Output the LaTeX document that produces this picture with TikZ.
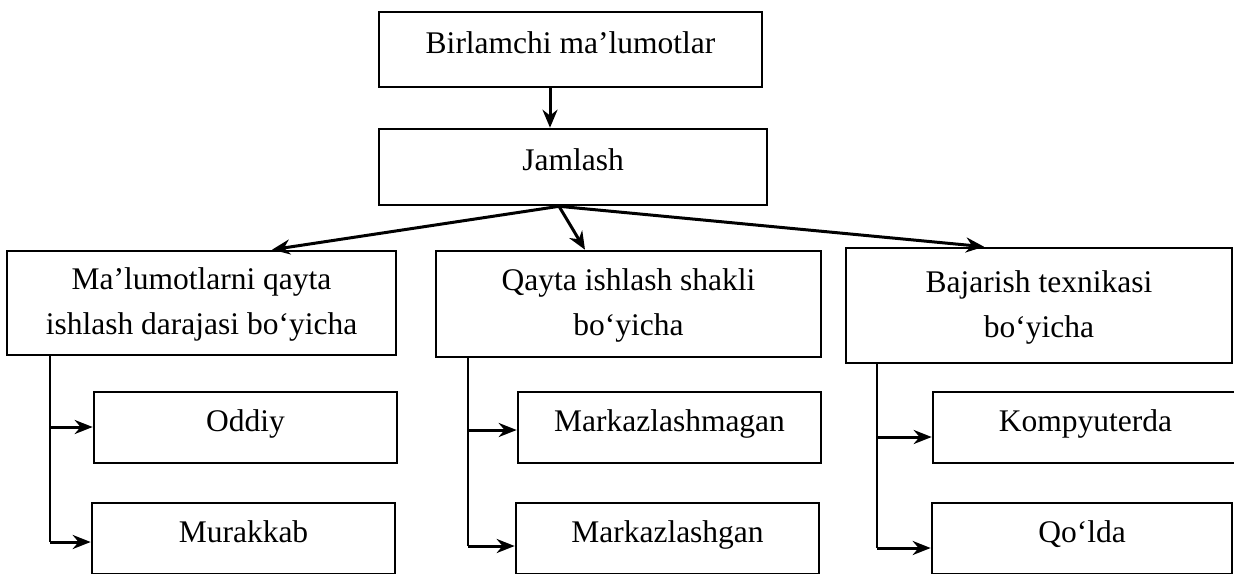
\documentclass[tikz,border=0pt]{standalone}
\usepackage{fontspec}
\setmainfont{Liberation Serif}
\usetikzlibrary{arrows.meta}
\newcommand{\twolines}[3]{\raisebox{#1}{\begin{tabular}{@{}c@{}}#2\\#3\end{tabular}}}
\tikzset{
  box/.style={draw, line width=2.6pt, inner sep=0pt,
    font=\fontsize{31.5}{45}\selectfont},
  one/.style={box, text height=22pt, text depth=15pt},
  main/.style={line width=3pt, -{Stealth[length=18pt,width=15pt]}},
  sub/.style={line width=3pt, -{Stealth[length=18pt,width=14pt]}},
  stem/.style={line width=1.3pt},
}
\begin{document}
\begin{tikzpicture}[x=1pt,y=-1pt]
\fill[white] (0,0) rectangle (1234,573);
\useasboundingbox (0,0) rectangle (1234,573);

\node[one, minimum width=383pt, minimum height=75pt] (top) at (570.5,49.5) {Birlamchi ma’lumotlar};
\node[one, minimum width=388pt, minimum height=76pt] (jam) at (573,167) {Jamlash};

\node[box, minimum width=389pt, minimum height=104pt] (left) at (201.5,303) {\twolines{-2.5pt}{Ma’lumotlarni qayta}{ishlash darajasi bo‘yicha}};
\node[box, minimum width=385pt, minimum height=106pt] (mid) at (628.5,304) {\twolines{0pt}{Qayta ishlash shakli}{bo‘yicha}};
\node[box, minimum width=386pt, minimum height=115pt] (right) at (1039,305.5) {\twolines{5pt}{Bajarish texnikasi}{bo‘yicha}};

\node[one, minimum width=303pt, minimum height=71pt] (odd) at (245.5,427.5) {Oddiy};
\node[one, minimum width=303pt, minimum height=71pt] (mur) at (243.5,538.5) {Murakkab};
\node[one, minimum width=303pt, minimum height=71pt] (mag) at (669.5,427.5) {Markazlashmagan};
\node[one, minimum width=303pt, minimum height=71pt] (gan) at (667.5,538.5) {Markazlashgan};
\node[one, minimum width=305pt, minimum height=71pt] (komp) at (1085.5,427.5) {Kompyuterda};
\node[one, minimum width=300pt, minimum height=71pt] (qol) at (1082,538.5) {Qo‘lda};

% top arrow
\coordinate (a1) at (550,0);
\draw[main] (top.south -| a1) -- (jam.north -| a1);

% split arrows
\coordinate (sp) at (559,0);
\draw[main] (jam.south -| sp) -- ([xshift=70.5pt]left.north);
\draw[main] (jam.south -| sp) -- ([xshift=-43.5pt]mid.north);
\draw[main] (jam.south -| sp) -- ([xshift=-55pt]right.north);

% left branch
\coordinate (l1) at (50,427);
\coordinate (l2) at (50,542);
\draw[stem] (left.south -| l1) -- (l2);
\draw[sub] (l1) -- (l1 -| odd.west);
\draw[sub] (l2) -- (l2 -| mur.west);

% middle branch
\coordinate (m1) at (468,430);
\coordinate (m2) at (468,546);
\draw[stem] (mid.south -| m1) -- (m2);
\draw[sub] (m1) -- (m1 -| mag.west);
\draw[sub] (m2) -- (m2 -| gan.west);

% right branch
\coordinate (r1) at (877,437);
\coordinate (r2) at (877,548);
\draw[stem] (right.south -| r1) -- (r2);
\draw[sub] (r1) -- (r1 -| komp.west);
\draw[sub] (r2) -- (r2 -| qol.west);
\end{tikzpicture}
\end{document}
